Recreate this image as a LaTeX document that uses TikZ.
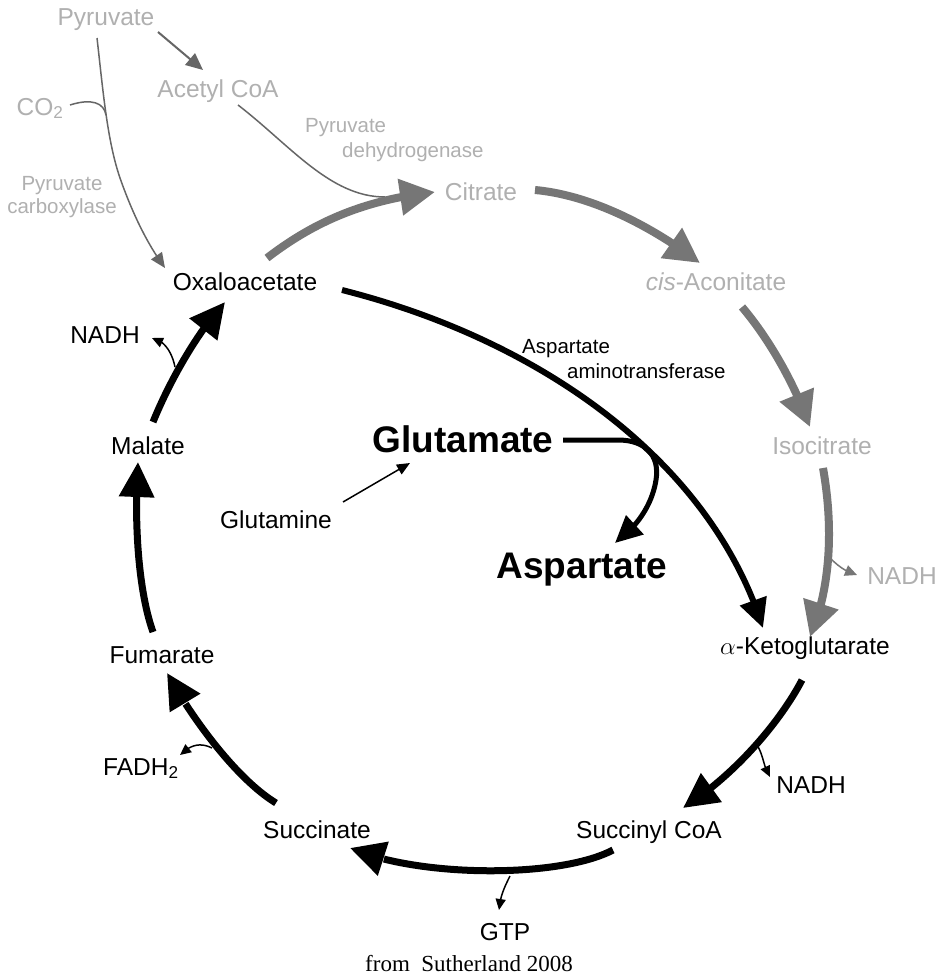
\documentclass[tikz,border=0pt]{standalone}
\usepackage{fontspec}
\setmainfont{Liberation Sans}
\newfontfamily\capfont{Liberation Serif}
\usetikzlibrary{arrows.meta,bending,calc}
\definecolor{gtxt}{HTML}{B0B0B0}
\definecolor{garr}{HTML}{767676}
\definecolor{gthin}{HTML}{666666}
\begin{document}
\begin{tikzpicture}[x=1pt,y=-1pt,
  lab/.style={inner sep=0pt, anchor=base, font=\fontsize{24.5}{28}\selectfont},
  glab/.style={lab, text=gtxt},
  small/.style={inner sep=0pt, anchor=base west, font=\fontsize{20.5}{24}\selectfont},
  big/.style={inner sep=0pt, anchor=base, font=\fontsize{37}{42}\selectfont\bfseries},
  cyc/.style={line width=7pt, -{Triangle[length=35pt,width=34pt]}},
  gcyc/.style={draw=garr, line width=8pt, -{Triangle[length=35pt,width=35pt]}},
  thin/.style={line width=1.5pt, -{Triangle[length=11pt,width=10pt]}},
  gthinarr/.style={draw=garr, line width=1.5pt, -{Triangle[length=12pt,width=11pt]}},
  gline/.style={draw=gthin, line width=1.5pt}
]
\fill[white] (0,0) rectangle (944,977);
\useasboundingbox (0,0) rectangle (944,977);

% ---- labels ----
\node[glab] (pyr) at (106,25) {Pyruvate};
\node[glab] (acoa) at (218,97) {Acetyl CoA};
\node[glab] (co2) at (40,115) {CO\textsubscript{2}};
\node[small, text=gtxt, anchor=base] (pcA) at (62,190) {Pyruvate};
\node[small, text=gtxt, anchor=base] (pcB) at (62,213) {carboxylase};
\node[small, text=gtxt] (pdA) at (305,132) {Pyruvate};
\node[small, text=gtxt] (pdB) at (342,157) {dehydrogenase};
\node[glab] (cit) at (481,200) {Citrate};
\node[glab] (cis) at (716,290) {\textit{cis}-Aconitate};
\node[glab] (iso) at (822,454) {Isocitrate};
\node[glab] (nadhG) at (902,584) {NADH};
\node[lab] (akg) at (805,654) {$\alpha$-Ketoglutarate};
\node[lab] (nadhR) at (811,793) {NADH};
\node[lab] (scoa) at (649,838) {Succinyl CoA};
\node[lab] (gtp) at (505,940) {GTP};
\node[lab] (succ) at (317,838) {Succinate};
\node[lab, anchor=base west] (fadh) at (103,775) {FADH\textsubscript{2}};
\node[lab] (fum) at (162,663) {Fumarate};
\node[lab] (mal) at (148,454) {Malate};
\node[lab] (nadhL) at (105,343) {NADH};
\node[lab] (oxa) at (245,290) {Oxaloacetate};
\node[big] (glu) at (463,452) {Glutamate};
\node[big] (asp) at (582,578) {Aspartate};
\node[lab] (gln) at (276,528) {Glutamine};
\node[small] (aatA) at (522,353) {Aspartate};
\node[small] (aatB) at (567,378) {aminotransferase};
\node[inner sep=0pt, anchor=base, font=\capfont\fontsize{23}{27}\selectfont] (cap) at (469,971) {from\hspace{0.5em}Sutherland 2008};

% ---- grey entry pathways ----
\draw[gline, line width=2pt, -{Triangle[length=17pt,width=15pt]}] ($(pyr.base)+(52,7)$) -- ($(acoa.base)+(-15,-27)$);
\coordinate (join) at (106,115);
\draw[gline, -{Triangle[length=15pt,width=13pt]}] ($(pyr.base)+(-9,13)$) .. controls (103,90) and (107,140) .. (120,178) .. controls (133,215) and (148,245) .. ($(oxa.base)+(-80,-22)$);
\draw[gline] ($(co2.base)+(30,-10)$) .. controls (92,98) and (104,103) .. (join);
\draw[gline] ($(acoa.base)+(20,8)$) .. controls (290,145) and (330,197) .. ($(cit.base)+(-96,-3)$);

% ---- grey half of cycle ----
\draw[gcyc] ($(oxa.base)+(22,-32)$) .. controls (310,225) and (360,200) .. ($(cit.base)+(-46,-8)$);
\draw[gcyc] ($(cit.base)+(54,-10)$) .. controls (590,195) and (650,225) .. ($(cis.base)+(-16,-27)$);
\draw[gcyc] ($(cis.base)+(26,17)$) .. controls (770,340) and (795,385) .. ($(iso.base)+(-12,-27)$);
\draw[gcyc] ($(iso.base)+(1,14)$) .. controls (834,530) and (830,590) .. ($(akg.base)+(5,-17)$);
\draw[gthinarr] ($(iso.base)+(8,104)$) .. controls (838,566) and (846,572) .. ($(nadhG.base)+(-45,-9)$);

% ---- black half of cycle ----
\draw[cyc] ($(akg.base)+(-3,26)$) .. controls (780,722) and (735,775) .. ($(scoa.base)+(34,-30)$);
\draw[thin] ($(akg.base)+(-48,91)$) .. controls (764,756) and (764,770) .. ($(nadhR.base)+(-41,-16)$);
\draw[cyc] ($(scoa.base)+(-36,12)$) .. controls (560,878) and (420,878) .. ($(succ.base)+(33,10)$);
\draw[thin] ($(scoa.base)+(-139,38)$) .. controls (505,886) and (500,896) .. ($(gtp.base)+(-6,-30)$);
\draw[cyc] ($(succ.base)+(-41,-35)$) .. controls (235,778) and (190,715) .. ($(fum.base)+(5,10)$);
\draw[thin] ($(succ.base)+(-105,-90)$) .. controls (200,742) and (190,745) .. ($(fadh.base west)+(77,-20)$);
\draw[cyc] ($(fum.base)+(-9,-31)$) .. controls (138,590) and (134,520) .. ($(mal.base)+(-10,8)$);
\draw[cyc] ($(mal.base)+(5,-32)$) .. controls (168,385) and (195,335) .. ($(oxa.base)+(-20,12)$);
\draw[thin] ($(mal.base)+(27,-87)$) .. controls (172,352) and (164,340) .. ($(nadhL.base)+(47,-5)$);

% ---- transamination ----
\draw[line width=6pt, -{Triangle[length=29pt,width=27pt]}] ($(oxa.base)+(97,0)$) .. controls (540,340) and (710,460) .. ($(akg.base)+(-42,-26)$);
\draw[line width=5pt, -{Triangle[length=27pt,width=25pt]}] ($(glu.base)+(100,-12)$) -- (618,440) .. controls (645,440) and (660,455) .. (656,480) .. controls (652,505) and (637,527) .. ($(asp.base)+(33,-35)$);
\draw[line width=1.5pt, -{Triangle[length=13pt,width=11pt]}] ($(gln.base)+(67,-26)$) -- ($(glu.base)+(-53,11)$);
\end{tikzpicture}
\end{document}
